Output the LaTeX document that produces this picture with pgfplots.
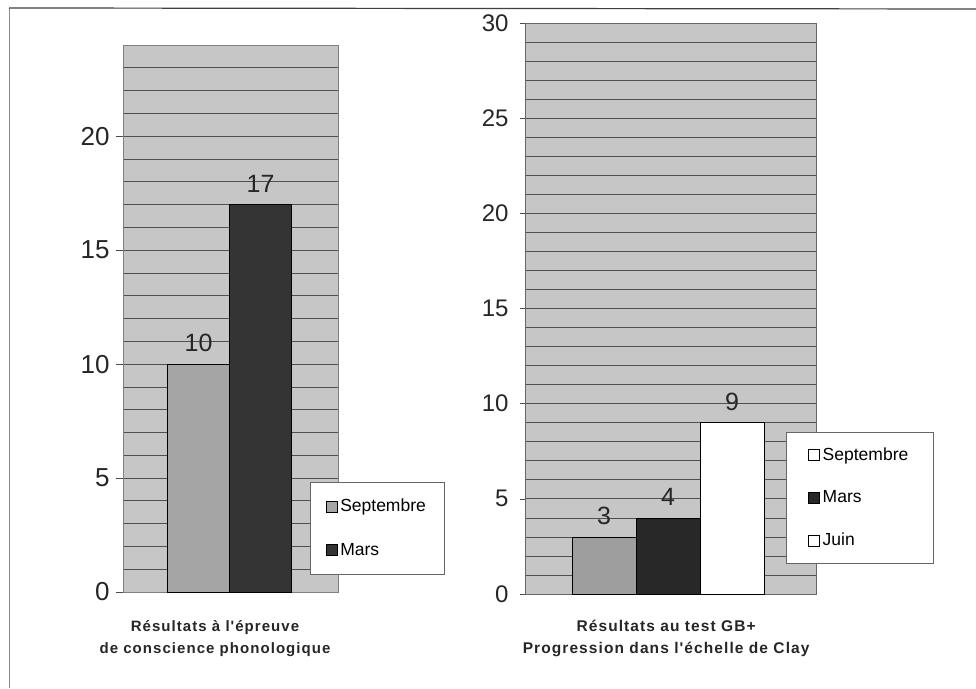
\documentclass[border=0pt]{standalone}
\usepackage{pgfplots}
\pgfplotsset{compat=1.18}
\usepackage{fontspec}
\setmainfont{Liberation Sans}
\newfontfamily\capfont[LetterSpace=7]{Liberation Sans}
\definecolor{bgcol}{RGB}{198,198,198}
\definecolor{septL}{RGB}{165,165,165}
\definecolor{marsL}{RGB}{52,52,52}
\definecolor{septR}{RGB}{158,158,158}
\definecolor{marsR}{RGB}{40,40,40}
\definecolor{gridc}{RGB}{80,80,80}
\begin{document}
\begin{tikzpicture}[x=1pt,y=1pt]
\path[use as bounding box] (0,0) rectangle (976,688);
\draw[black!45, line width=1pt] (9,0) -- (9,680);
\draw[black!75, line width=1.2pt] (9,680) -- (976,679);
\pgfplotsset{
  chartbase/.style={
    scale only axis,
    anchor=south west,
    ybar, bar shift=0pt, bar width=1,
    xtick=\empty,
    ytick pos=left,
    ymajorgrids, yminorgrids,
    grid style={draw=gridc, line width=0.7pt},
    minor grid style={draw=gridc, line width=0.7pt},
    axis background/.style={fill=bgcol},
    axis line style={draw=black!50, line width=0.6pt},
    tick align=outside, major tick length=7pt, minor tick length=0pt,
    ytick style={draw=black!70, line width=0.6pt},
    /pgf/number format/assume math mode=true,
    nodes near coords,
    every node near coord/.append style={anchor=south, inner sep=1pt, yshift=11pt, text=black!85},
    legend cell align=left,
    legend image code/.code={\draw[##1, draw=black, line width=0.5pt] (0pt,-5.5pt) rectangle (11pt,5.5pt);},
    xlabel style={align=center, anchor=north, inner sep=0pt},
  }
}
% Left chart
\begin{axis}[chartbase,
  at={(123pt,96pt)}, width=215pt, height=547pt,
  xmin=-0.218, xmax=3.250, ymin=0, ymax=24,
  ytick={0,5,10,15,20}, minor ytick={1,...,23},
  yticklabel style={font=\fontsize{26}{26}\selectfont, text=black!85, xshift=-3pt},
  every node near coord/.append style={font=\fontsize{25}{25}\selectfont},
  legend style={at={(0.870,0.201)}, anchor=north west, draw=black!60, fill=white,
    font=\fontsize{17.5}{17.5}\selectfont, row sep=26pt, inner xsep=15.5pt, inner ysep=15pt,
    nodes={inner xsep=3pt}},
  xlabel={Résultats à l'épreuve\\de conscience phonologique},
  xlabel style={at={(axis description cs:0.428,-0.051)}, font=\capfont\bfseries\fontsize{15}{22}\selectfont, text=black!85},
]
\addplot[fill=septL, draw=black, line width=0.6pt] coordinates {(1,10)};
\addlegendentry{Septembre}
\addplot[fill=marsL, draw=black, line width=0.6pt] coordinates {(2,17)};
\addlegendentry{Mars}
\end{axis}
% Right chart
\begin{axis}[chartbase,
  at={(525pt,94pt)}, width=291pt, height=571pt,
  xmin=-0.234, xmax=4.313, ymin=0, ymax=30,
  ytick={0,5,10,15,20,25,30}, minor ytick={1,...,29},
  axis line style={draw=black!60, line width=0.6pt},
  major tick length=5pt,
  yticklabel style={font=\fontsize{24}{24}\selectfont, text=black!85, xshift=-8pt},
  every node near coord/.append style={font=\fontsize{25}{25}\selectfont},
  legend style={at={(0.897,0.284)}, anchor=north west, draw=black!60, fill=white,
    font=\fontsize{17.5}{17.5}\selectfont, row sep=25pt, inner xsep=22pt, inner ysep=13.5pt,
    nodes={inner xsep=3pt}},
  xlabel={Résultats au test GB+\\Progression dans l'échelle de Clay},
  xlabel style={at={(axis description cs:0.485,-0.046)}, font=\capfont\bfseries\fontsize{15.5}{22}\selectfont, text=black!85},
]
\addplot[fill=septR, draw=black, line width=0.6pt, forget plot] coordinates {(1,3)};
\addplot[fill=marsR, draw=black, line width=0.6pt, forget plot] coordinates {(2,4)};
\addplot[fill=white, draw=black, line width=0.6pt, forget plot] coordinates {(3,9)};
\addlegendimage{fill=white, draw=black}
\addlegendentry{Septembre}
\addlegendimage{fill=marsR, draw=black}
\addlegendentry{Mars}
\addlegendimage{fill=white, draw=black}
\addlegendentry{Juin}
\end{axis}
\end{tikzpicture}
\end{document}
